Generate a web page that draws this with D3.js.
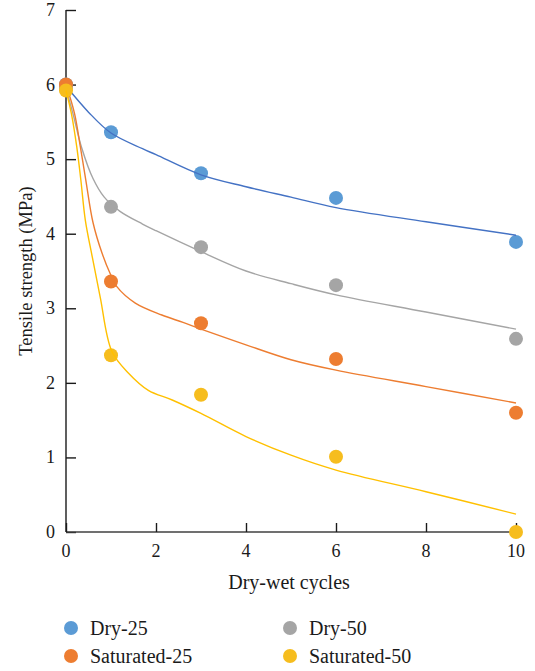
<!doctype html>
<html lang="en">
  <head>
    <meta charset="utf-8">
    <title>Tensile strength vs dry-wet cycles</title>
    <script src="https://d3js.org/d3.v7.min.js"></script>
    <style>
      body { margin: 0; background: #fff; }
    </style>
  </head>

  <body>
    <svg width="535" height="671"></svg>
    <script>
      // measured points
      var cycles = [0, 1, 3, 6, 10];
      var dry25 = [6.00, 5.36, 4.81, 4.48, 3.89];
      var dry50 = [5.95, 4.36, 3.82, 3.31, 2.59];
      var sat25 = [6.00, 3.36, 2.80, 2.32, 1.60];
      var sat50 = [5.92, 2.37, 1.84, 1.01, 0.00];

      // fitted trend lines
      var fitDry25X = [0, 0.5, 1, 1.7, 2, 3, 4, 5, 6, 8, 10];
      var fitDry25 = [5.98, 5.63, 5.35, 5.14, 5.06, 4.79, 4.63, 4.49, 4.35, 4.16, 3.98];
      var fitDry50X = [0, 0.15, 0.35, 0.6, 0.85, 1.2, 1.7, 2, 3, 4, 5, 6, 8, 10];
      var fitDry50 = [5.95, 5.62, 5.15, 4.74, 4.49, 4.30, 4.13, 4.04, 3.76, 3.50, 3.33, 3.18, 2.95, 2.72];
      var fitSat25X = [0, 0.19, 0.32, 0.44, 0.6, 0.8, 1, 1.13, 1.54, 2.13, 2.6, 3, 4, 5, 6, 8, 10];
      var fitSat25 = [6.00, 5.61, 5.16, 4.72, 4.15, 3.74, 3.44, 3.29, 3.07, 2.91, 2.81, 2.72, 2.51, 2.31, 2.17, 1.95, 1.73];
      var fitSat50X = [0, 0.12, 0.24, 0.33, 0.43, 0.58, 0.76, 1.02, 1.39, 1.83, 2.36, 3, 4, 5, 6, 8, 10];
      var fitSat50 = [5.92, 5.61, 5.16, 4.72, 4.18, 3.70, 3.15, 2.42, 2.13, 1.90, 1.77, 1.59, 1.28, 1.03, 0.83, 0.54, 0.24];

      var xTicks = [0, 2, 4, 6, 8, 10];
      var yTicks = [0, 1, 2, 3, 4, 5, 6, 7];

      var series = [
        { name: 'Dry-25', pts: dry25, fx: fitDry25X, fit: fitDry25, dot: '#5b9bd5', line: '#4472c4' },
        { name: 'Dry-50', pts: dry50, fx: fitDry50X, fit: fitDry50, dot: '#a5a5a5', line: '#a5a5a5' },
        { name: 'Saturated-25', pts: sat25, fx: fitSat25X, fit: fitSat25, dot: '#ed7d31', line: '#ed7d31' },
        { name: 'Saturated-50', pts: sat50, fx: fitSat50X, fit: fitSat50, dot: '#f6bd1e', line: '#ffc000' }
      ];

      var font = '"Liberation Serif", "Times New Roman", serif';
      var ink = '#1a1a1a';

      var svg = d3.select('svg');

      var x = d3.scaleLinear().domain([0, 10]).range([66, 516]);
      var y = d3.scaleLinear().domain([0, 7]).range([532, 10]);

      // y axis, ticks pointing inwards
      var yAxis = svg.append('g')
        .attr('transform', 'translate(66,0)')
        .call(d3.axisRight(y).tickValues(yTicks).tickSize(10).tickFormat(''));
      yAxis.select('.domain').attr('d', 'M0,' + y(7) + 'V' + y(0)).attr('stroke', ink).attr('stroke-width', 1.4);
      yAxis.selectAll('.tick line').attr('stroke', ink).attr('stroke-width', 1.4);

      svg.append('g').selectAll('text')
        .data(yTicks)
        .enter().append('text')
          .attr('x', 55)
          .attr('y', function(d){ return y(d) + 6; })
          .attr('text-anchor', 'end')
          .style('font-family', font)
          .style('font-size', '18px')
          .style('fill', ink)
          .text(function(d){ return d; });

      // x axis, ticks pointing up
      var xAxis = svg.append('g')
        .attr('transform', 'translate(0,532)')
        .call(d3.axisTop(x).tickValues(xTicks).tickSize(9).tickFormat(''));
      xAxis.select('.domain').attr('d', 'M' + x(0) + ',0H' + x(10)).attr('stroke', '#404040').attr('stroke-width', 1.4);
      xAxis.selectAll('.tick line').attr('stroke', ink).attr('stroke-width', 1.4);

      svg.append('g').selectAll('text')
        .data(xTicks)
        .enter().append('text')
          .attr('x', function(d){ return x(d); })
          .attr('y', 557)
          .attr('text-anchor', 'middle')
          .style('font-family', font)
          .style('font-size', '18px')
          .style('fill', ink)
          .text(function(d){ return d; });

      svg.append('text')
        .attr('x', 289)
        .attr('y', 589)
        .attr('text-anchor', 'middle')
        .style('font-family', font)
        .style('font-size', '20px')
        .style('fill', ink)
        .text('Dry-wet cycles');

      svg.append('text')
        .attr('transform', 'translate(32,271) rotate(-90)')
        .attr('text-anchor', 'middle')
        .style('font-family', font)
        .style('font-size', '18.5px')
        .style('fill', ink)
        .text('Tensile strength (MPa)');

      var line = d3.line()
        .x(function(d){ return x(d[0]); })
        .y(function(d){ return y(d[1]); })
        .curve(d3.curveCatmullRom.alpha(0.5));

      series.forEach(function(s){
        var g = svg.append('g');
        g.selectAll('circle')
          .data(cycles)
          .enter().append('circle')
            .attr('cx', function(d){ return x(d); })
            .attr('cy', function(d, i){ return y(s.pts[i]); })
            .attr('r', 7)
            .attr('fill', s.dot);
        g.append('path')
          .datum(s.fx.map(function(v, i){ return [v, s.fit[i]]; }))
          .attr('d', line)
          .attr('fill', 'none')
          .attr('stroke', s.line)
          .attr('stroke-width', 1.4);
      });

      // legend
      var legend = svg.append('g').selectAll('g')
        .data(series)
        .enter().append('g')
          .attr('transform', function(d, i){
            return 'translate(' + (i % 2 ? 290 : 71) + ',' + (i < 2 ? 628 : 656) + ')';
          });
      legend.append('circle')
        .attr('r', 7)
        .attr('fill', function(d){ return d.dot; });
      legend.append('text')
        .attr('x', 19)
        .attr('y', 7)
        .style('font-family', font)
        .style('font-size', '20px')
        .style('fill', ink)
        .text(function(d){ return d.name; });
    </script>
  </body>
</html>
